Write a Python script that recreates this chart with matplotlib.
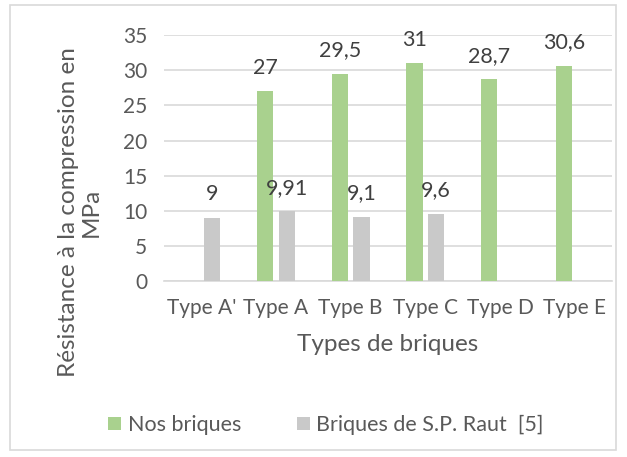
import matplotlib.pyplot as plt
import numpy as np

categories = ["Type A'", "Type A", "Type B", "Type C", "Type D", "Type E"]
nos_briques = [np.nan, 27, 29.5, 31, 28.7, 30.6]
raut = [9, 9.91, 9.1, 9.6, np.nan, np.nan]

green = '#A9D18E'
grey = '#C9C9C9'
txt = '#595959'

plt.rcParams['font.family'] = ['Lato', 'DejaVu Sans']

fig = plt.figure(figsize=(6.27, 4.57), dpi=100)
ax = fig.add_axes([0.2616, 0.385, 0.7144, 0.538])

x = np.arange(len(categories))
w = 0.22
off = 0.145
b1 = ax.bar(x - off, nos_briques, w, color=green, label='Nos briques', zorder=3)
b2 = ax.bar(x + off, raut, w, color=grey, label='Briques de S.P. Raut  [5]', zorder=3)

def fmt(v):
    return ('%g' % v).replace('.', ',')

for bars, vals in ((b1, nos_briques), (b2, raut)):
    for r, v in zip(bars, vals):
        if np.isnan(v):
            continue
        ax.annotate(fmt(v), (r.get_x() + r.get_width() / 2, v), xytext=(0, 17),
                    textcoords='offset points', ha='center', va='center',
                    fontsize=15.5, color='#404040', clip_on=False)

ax.set_xlim(-0.5, len(categories) - 0.5)
ax.set_ylim(0, 35)
ax.set_yticks(range(0, 36, 5))
ax.set_xticks(x)
ax.set_xticklabels(categories)
ax.tick_params(axis='both', length=0, labelsize=15, colors=txt)
ax.tick_params(axis='y', pad=12)
ax.tick_params(axis='x', pad=12)
ax.grid(axis='y', color='#D9D9D9', linewidth=1.2, zorder=0)
for s in ('top', 'right', 'left'):
    ax.spines[s].set_visible(False)
ax.spines['bottom'].set_color('#D9D9D9')
ax.spines['bottom'].set_linewidth(1.2)

ax.set_xlabel('Types de briques', fontsize=17.5, color=txt, labelpad=12)
fig.text(0.127, 0.536, 'Résistance à la compression en\nMPa', rotation=90,
         ha='center', va='center', multialignment='center', fontsize=17.5,
         color=txt, linespacing=1.1)

fig.legend(handles=[b1, b2], loc='center', bbox_to_anchor=(0.52, 0.07), ncol=2,
           frameon=False, fontsize=15.5, labelcolor=txt, handlelength=0.6,
           handleheight=0.6, handletextpad=0.3, columnspacing=2.6)

fig.patches.append(plt.Rectangle((0.016, 0.015), 0.966, 0.975, transform=fig.transFigure,
                                 fill=False, edgecolor='#D9D9D9', linewidth=1.2))

plt.savefig('out.png', dpi=100)
